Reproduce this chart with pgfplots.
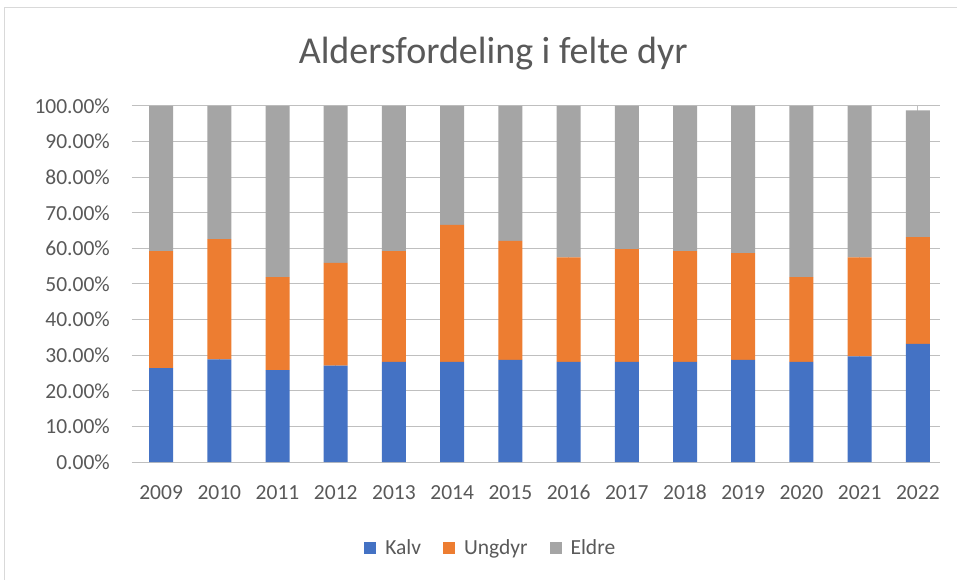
\documentclass[border=0pt]{standalone}
\usepackage{pgfplots}
\pgfplotsset{compat=1.18}
\usepackage{pgfplotstable}
\usepackage{fontspec}
\setmainfont{Carlito}
\definecolor{cblue}{HTML}{4472C4}
\definecolor{corange}{HTML}{ED7D31}
\definecolor{cgray}{HTML}{A5A5A5}
\definecolor{txt}{HTML}{595959}
\definecolor{grid}{HTML}{D9D9D9}
\pgfplotstableread{
x Kalv Ungdyr Eldre
0 26.4 32.8 40.8
1 28.8 33.8 37.4
2 25.8 26.1 48.1
3 27.1 28.8 44.1
4 28.1 31.1 40.8
5 28.1 38.5 33.4
6 28.7 33.4 37.9
7 28.1 29.4 42.5
8 28.1 31.7 40.2
9 28.1 31.1 40.8
10 28.7 30.0 41.3
11 28.1 23.8 48.1
12 29.7 27.8 42.5
13 33.2 30.0 35.6
}\datatable
\begin{document}
\begin{tikzpicture}[x=1pt,y=1pt]
\useasboundingbox (-132,-118) rectangle (825,462);
\fill[white] (-132,-118) rectangle (825,462);
\draw[grid, line width=1pt] (-127,-130) -- (-127,454) -- (840,454);
\begin{axis}[
  at={(0,0)}, anchor=south west,
  scale only axis, width=808pt, height=356pt,
  ybar stacked, bar width=24pt,
  xmin=-0.5, xmax=13.38, ymin=0, ymax=100,
  xtick=data,
  xticklabels={2009,2010,2011,2012,2013,2014,2015,2016,2017,2018,2019,2020,2021,2022},
  ytick={0,10,...,100},
  yticklabel={\pgfmathprintnumber[fixed,fixed zerofill,precision=2]{\tick}\%},
  /pgf/number format/assume math mode=true,
  ymajorgrids, grid style={grid, line width=1pt},
  axis line style={draw=none},
  axis x line*=bottom,
  x axis line style={grid, line width=1pt},
  major tick length=0pt,
  tick label style={font=\fontsize{21.5}{24}\selectfont, text=txt},
  yticklabel style={anchor=east, inner sep=0pt, xshift=-22pt},
  xticklabel style={anchor=north, inner sep=0pt, yshift=-23pt},
  title={Aldersfordeling i felte dyr},
  title style={at={(rel axis cs:0.447,1.13)}, anchor=center, font=\fontsize{38}{42}\selectfont, text=txt},
  legend style={at={(rel axis cs:0.444,-0.242)}, anchor=center, draw=none, fill=none,
    legend columns=-1, font=\fontsize{21.5}{24}\selectfont, text=txt,
    /tikz/every even column/.append style={column sep=20pt}},
  legend image code/.code={\fill[#1] (0pt,-6pt) rectangle (12pt,6pt); \path (19pt,0pt);},
]
\addplot[fill=cblue, draw=none] table[x=x, y=Kalv] {\datatable};
\addplot[fill=corange, draw=none] table[x=x, y=Ungdyr] {\datatable};
\addplot[fill=cgray, draw=none] table[x=x, y=Eldre] {\datatable};
\legend{Kalv, Ungdyr, Eldre}
\end{axis}
\end{tikzpicture}
\end{document}
